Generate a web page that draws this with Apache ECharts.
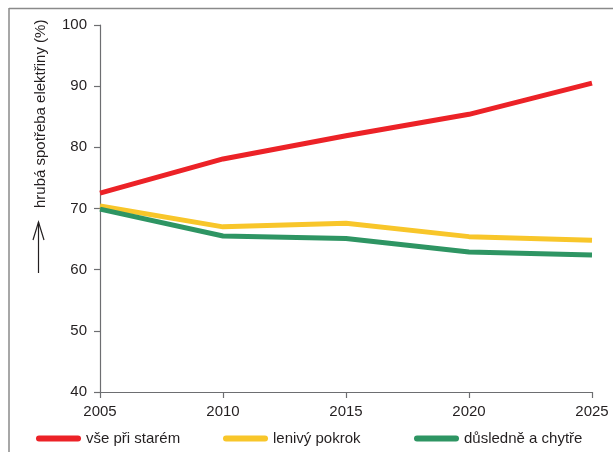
<!DOCTYPE html>
<html>
<head>
<meta charset="utf-8">
<title>Hrubá spotřeba elektřiny</title>
<script src="https://cdn.jsdelivr.net/npm/echarts@6/dist/echarts.min.js"></script>
<style>
  html, body { margin: 0; padding: 0; background: #fff; }
  #chart { width: 613px; height: 452px; }
</style>
</head>
<body>
<div id="chart"></div>
<script>
// Years on the horizontal axis
const years = ['2005', '2010', '2015', '2020', '2025'];

// Scenario names
const seriesNames = ['vše při starém', 'lenivý pokrok', 'důsledně a chytře'];

// Gross electricity consumption (%) per scenario
const vsePriStarem = [72.5, 78.1, 81.9, 85.4, 90.5];
const lenivyPokrok = [70.4, 67.0, 67.6, 65.4, 64.8];
const dusledneAChytre = [69.9, 65.5, 65.1, 62.9, 62.4];

// Vertical axis range and step
const yMin = 40, yMax = 100, yStep = 10;

const colors = ['#ec2227', '#f8c62a', '#2e9563'];
const font = '"Liberation Sans", Arial, Helvetica, sans-serif';
const textColor = '#231f20';
const axisColor = '#6d6e71';

const chart = echarts.init(document.getElementById('chart'), null, { renderer: 'canvas' });

const pill = 'path://M3,0 L42,0 A3,3 0 0 1 42,6 L3,6 A3,3 0 0 1 3,0 Z';
const legendLefts = [36, 223, 414];

chart.setOption({
  animation: false,
  backgroundColor: '#fff',
  grid: { left: 100, right: 21, top: 25, bottom: 60, containLabel: false },
  xAxis: {
    type: 'category',
    data: years,
    boundaryGap: false,
    axisLine: { show: true, lineStyle: { color: axisColor, width: 1.2 } },
    axisTick: { show: true, length: 6, alignWithLabel: true, lineStyle: { color: axisColor, width: 1.2 } },
    axisLabel: { margin: 12, color: textColor, fontSize: 15, fontFamily: font },
    splitLine: { show: false }
  },
  yAxis: {
    type: 'value',
    min: yMin,
    max: yMax,
    interval: yStep,
    axisLine: { show: true, lineStyle: { color: axisColor, width: 1.2 } },
    axisTick: { show: true, length: 6, lineStyle: { color: axisColor, width: 1.2 } },
    axisLabel: { margin: 13, color: textColor, fontSize: 15, fontFamily: font },
    splitLine: { show: false }
  },
  legend: seriesNames.map((name, i) => ({
    data: [{ name: name, icon: pill }],
    left: legendLefts[i],
    top: 431,
    padding: 0,
    itemWidth: 45,
    itemHeight: 6,
    selectedMode: false,
    textStyle: { color: textColor, fontSize: 15, fontFamily: font }
  })),
  series: [vsePriStarem, lenivyPokrok, dusledneAChytre].map((values, i) => ({
    name: seriesNames[i],
    type: 'line',
    data: values,
    showSymbol: false,
    symbol: 'none',
    smooth: false,
    itemStyle: { color: colors[i] },
    lineStyle: { color: colors[i], width: 5, cap: 'butt', join: 'round' },
    emphasis: { disabled: true },
    z: 2 + i
  })),
  graphic: [
    // frame lines along the top and left
    { type: 'line', shape: { x1: 9, y1: 8.5, x2: 613, y2: 8.5 }, style: { stroke: '#8a8a8a', lineWidth: 1.5 }, silent: true },
    { type: 'line', shape: { x1: 9, y1: 8, x2: 9, y2: 452 }, style: { stroke: '#8a8a8a', lineWidth: 1.5 }, silent: true },
    // axis title with its upward arrow
    { type: 'line', shape: { x1: 38.5, y1: 273, x2: 38.5, y2: 222 }, style: { stroke: '#231f20', lineWidth: 1.2 }, silent: true },
    { type: 'polyline', shape: { points: [[33, 240], [38.5, 222], [44, 240]] }, style: { stroke: '#231f20', lineWidth: 1.2, fill: null }, silent: true },
    {
      type: 'text',
      x: 41,
      y: 208,
      rotation: Math.PI / 2,
      silent: true,
      style: {
        text: 'hrubá spotřeba elektřiny (%)',
        fill: textColor,
        font: '15px ' + font,
        align: 'left',
        verticalAlign: 'middle'
      }
    }
  ]
});
</script>
</body>
</html>
